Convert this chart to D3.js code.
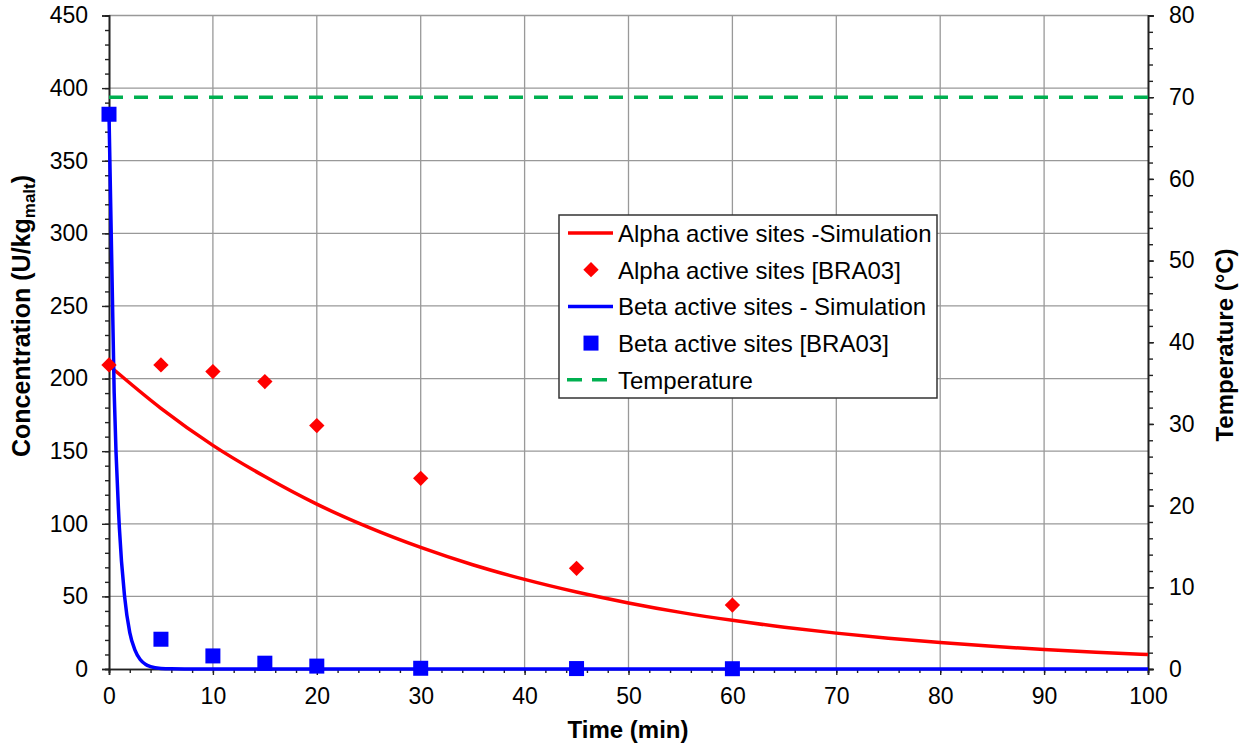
<!DOCTYPE html>
<html>
<head>
  <meta charset="utf-8">
  <script src="https://d3js.org/d3.v7.min.js"></script>
  <style>
    body { margin:0; background:#fff; }
    text { font-family: Arial, "Liberation Sans", sans-serif; }
  </style>
</head>
<body>
  <script>
    // data
    var alphaSimT = [0,5,10,15,20,25,30,35,40,45,50,55,60,65,70,75,80,85,90,95,100];
    var alphaSimC = [209,179.5,154,132.5,113.5,97.5,83.7,71.8,61.7,53,45.5,39,33.5,28.8,24.7,21.2,18.2,15.6,13.4,11.5,9.9];
    var betaSimT = [0,0.5,1,1.5,2,2.5,3,3.5,4,5,6,8,20,50,100];
    var betaSimC = [382,190,97,50,25,13,6.5,3.3,1.7,0.4,0.1,0,0,0,0];
    var expT = [0,5,10,15,20,30,45,60];
    var alphaExp = [209.4,209.4,204.8,197.9,167.6,131.3,69.3,44];
    var betaExp = [382,20.5,9,4,2,0.5,0.3,0.2];
    var tempT = [0,100];
    var tempC = [70,70];
    var legendLabels = ["Alpha active sites -Simulation","Alpha active sites [BRA03]",
                        "Beta active sites - Simulation","Beta active sites [BRA03]","Temperature"];

    var W = 1247, H = 747;
    var pLeft = 109, pRight = 1148, pTop = 15.5, pBottom = 669;

    var svg = d3.select("body").append("svg")
      .attr("width", W).attr("height", H);

    var x = d3.scaleLinear().domain([0,100]).range([pLeft,pRight]);
    var y = d3.scaleLinear().domain([0,450]).range([pBottom,pTop]);
    var y2 = d3.scaleLinear().domain([0,80]).range([pBottom,pTop]);

    var red = "#ff0000", blue = "#0000ff", green = "#00b050";

    // grid
    var grid = svg.append("g");
    grid.selectAll(".gx").data(d3.range(10,100,10)).enter().append("line")
      .attr("x1", d => x(d)).attr("x2", d => x(d))
      .attr("y1", pTop).attr("y2", pBottom)
      .attr("stroke","#999").attr("stroke-width",1.3);
    grid.selectAll(".gy").data(d3.range(50,451,50)).enter().append("line")
      .attr("x1", pLeft).attr("x2", pRight)
      .attr("y1", d => y(d)).attr("y2", d => y(d))
      .attr("stroke","#999").attr("stroke-width",1.3);

    // axes: minor ticks first, then majors with labels
    function styleAxis(g){
      g.select(".domain").attr("stroke","#222").attr("stroke-width",1.6);
      g.selectAll(".tick line").attr("stroke","#222").attr("stroke-width",1.4);
      g.selectAll("text").attr("font-size","23px").attr("fill","#000")
        .style("font-family","Arial, 'Liberation Sans', sans-serif");
    }

    svg.append("g").attr("transform","translate("+pLeft+",0)")
      .call(d3.axisLeft(y).tickValues(d3.range(0,451,10)).tickSize(4).tickFormat(""))
      .call(styleAxis);
    svg.append("g").attr("transform","translate("+pLeft+",0)")
      .call(d3.axisLeft(y).tickValues(d3.range(0,451,50)).tickSize(7).tickPadding(14))
      .call(styleAxis);

    svg.append("g").attr("transform","translate("+pRight+",0)")
      .call(d3.axisRight(y2).tickValues(d3.range(0,81,2)).tickSize(5).tickFormat(""))
      .call(styleAxis);
    svg.append("g").attr("transform","translate("+pRight+",0)")
      .call(d3.axisRight(y2).tickValues(d3.range(0,81,10)).tickSize(6).tickPadding(15))
      .call(styleAxis);

    svg.append("g").attr("transform","translate(0,"+pBottom+")")
      .call(d3.axisBottom(x).tickValues(d3.range(0,101,2)).tickSize(4).tickFormat(""))
      .call(styleAxis);
    svg.append("g").attr("transform","translate(0,"+pBottom+")")
      .call(d3.axisBottom(x).tickValues(d3.range(0,101,10)).tickSize(6).tickPadding(13))
      .call(styleAxis);

    // temperature
    var tempLine = d3.line().x((d,i) => x(tempT[i])).y(d => y2(d));
    svg.append("path").attr("d", tempLine(tempC))
      .attr("fill","none").attr("stroke",green).attr("stroke-width",3.5)
      .attr("stroke-dasharray","14,11");

    // simulations
    var alphaLine = d3.line().x((d,i) => x(alphaSimT[i])).y(d => y(d)).curve(d3.curveMonotoneX);
    svg.append("path").attr("d", alphaLine(alphaSimC))
      .attr("fill","none").attr("stroke",red).attr("stroke-width",3.5);

    var betaLine = d3.line().x((d,i) => x(betaSimT[i])).y(d => y(d)).curve(d3.curveMonotoneX);
    svg.append("path").attr("d", betaLine(betaSimC))
      .attr("fill","none").attr("stroke",blue).attr("stroke-width",3.5);

    // experimental markers
    var diamond = d3.symbol().type(d3.symbolDiamond2).size(150);
    svg.selectAll(".ad").data(alphaExp).enter().append("path")
      .attr("d", diamond)
      .attr("transform",(d,i) => "translate("+x(expT[i])+","+y(d)+")")
      .attr("fill",red);

    svg.selectAll(".bs").data(betaExp).enter().append("rect")
      .attr("x",(d,i) => x(expT[i]) - 7.5).attr("y", d => y(d) - 7.5)
      .attr("width",15).attr("height",15).attr("fill",blue);

    // axis titles
    var yt = svg.append("text")
      .attr("transform","translate(30,316) rotate(-90)")
      .attr("text-anchor","middle").attr("font-size","25px").attr("font-weight","bold");
    yt.append("tspan").text("Concentration (U/kg");
    yt.append("tspan").text("malt").attr("font-size","17px").attr("dy",5);
    yt.append("tspan").text(")").attr("dy",-5);

    svg.append("text")
      .attr("transform","translate(1233,345) rotate(-90)")
      .attr("text-anchor","middle").attr("font-size","24px").attr("font-weight","bold")
      .text("Temperature (°C)");

    svg.append("text").attr("x",628).attr("y",738)
      .attr("text-anchor","middle").attr("font-size","24px").attr("font-weight","bold")
      .text("Time (min)");

    // legend
    var lg = svg.append("g");
    lg.append("rect").attr("x",559).attr("y",215).attr("width",378).attr("height",183)
      .attr("fill","#fff").attr("stroke","#333").attr("stroke-width",1.5);
    var rowY = d3.range(5).map(i => 233 + i*36.7);
    lg.selectAll(".lt").data(legendLabels).enter().append("text")
      .attr("x",618).attr("y",(d,i) => rowY[i] + 9)
      .attr("font-size","24px").text(d => d);
    lg.append("line").attr("x1",568).attr("x2",613).attr("y1",rowY[0]).attr("y2",rowY[0])
      .attr("stroke",red).attr("stroke-width",3.5);
    lg.append("path").attr("d",diamond)
      .attr("transform","translate(591,"+rowY[1]+")").attr("fill",red);
    lg.append("line").attr("x1",568).attr("x2",613).attr("y1",rowY[2]).attr("y2",rowY[2])
      .attr("stroke",blue).attr("stroke-width",3.5);
    lg.append("rect").attr("x",583.5).attr("y",rowY[3]-7.5).attr("width",15).attr("height",15)
      .attr("fill",blue);
    lg.append("line").attr("x1",567).attr("x2",608).attr("y1",rowY[4]).attr("y2",rowY[4])
      .attr("stroke",green).attr("stroke-width",3.5).attr("stroke-dasharray","15,10");
  </script>
</body>
</html>
